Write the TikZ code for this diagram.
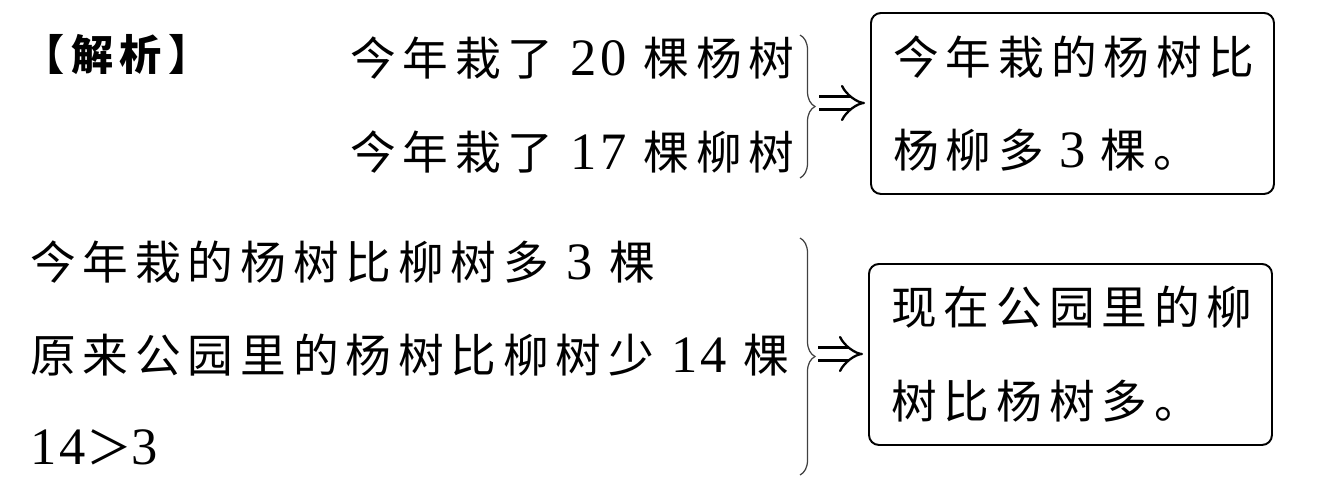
\documentclass[tikz,border=0pt]{standalone}
\usepackage{fontspec}
\setmainfont{Noto Sans CJK SC}[LetterSpace=15]
\newfontfamily\digf{Liberation Serif}[Scale=1.15, LetterSpace=6]
\newcommand\dig[1]{{\digf #1}}
\usepackage{tikz}
\usetikzlibrary{positioning, decorations.pathreplacing, arrows.meta}

\begin{document}
\begin{tikzpicture}[
  txt/.style={anchor=west, inner sep=0pt, font=\fontsize{26pt}{53.4pt}\selectfont},
  box/.style={draw, line width=1.1pt, rounded corners=0.2cm, anchor=north west,
    minimum width=8.06cm, minimum height=3.62cm, text width=7.16cm, inner xsep=0.45cm,
    align=left, font=\fontsize{26pt}{53.4pt}\selectfont},
  brc/.style={draw=black!75, line width=0.7pt, decorate, decoration={brace, amplitude=0.3cm}},
  imp/.style={double, double distance=6pt, line width=1.3pt, -{Implies[length=10pt, width=24pt]}, shorten >=0.1cm}]

  \useasboundingbox (0,0) rectangle (26.88,-9.78);

  % top part
  \node [txt, font=\fontsize{24pt}{24pt}\selectfont\bfseries] (jiexi) at (0.45,-1.1) {【解析】};
  \node [txt] (poplar) at (7.0,-1.16) {今年栽了 \dig{20} 棵杨树};
  \node [txt, below=1.88cm of poplar.west, anchor=west] (willow) {今年栽了 \dig{17} 棵柳树};
  \node [box] (box1) at (17.4,-0.24) {今年栽的杨树比\\杨柳多 \dig{3} 棵。};

  \coordinate (b1top) at (16.0,-0.7);
  \coordinate (b1bot) at (16.0,-3.56);
  \coordinate (b1tip) at (16.38,-2.06);
  \draw [brc] (b1top) -- (b1bot);
  \draw [imp] (b1tip) -- (b1tip -| box1.west);

  % bottom part
  \node [txt] (more) at (0.6,-5.24) {今年栽的杨树比柳树多 \dig{3} 棵};
  \node [txt, below=1.86cm of more.west, anchor=west] (less) {原来公园里的杨树比柳树少 \dig{14} 棵};
  \node [txt, below=1.84cm of less.west, anchor=west] (cmp) {\dig{14}＞\dig{3}};
  \node [box] (box2) at (17.36,-5.26) {现在公园里的柳\\树比杨树多。};

  \coordinate (b2top) at (16.0,-4.76);
  \coordinate (b2bot) at (16.0,-9.5);
  \coordinate (b2tip) at (16.36,-7.08);
  \draw [brc] (b2top) -- (b2bot);
  \draw [imp] (b2tip) -- (b2tip -| box2.west);

\end{tikzpicture}
\end{document}
